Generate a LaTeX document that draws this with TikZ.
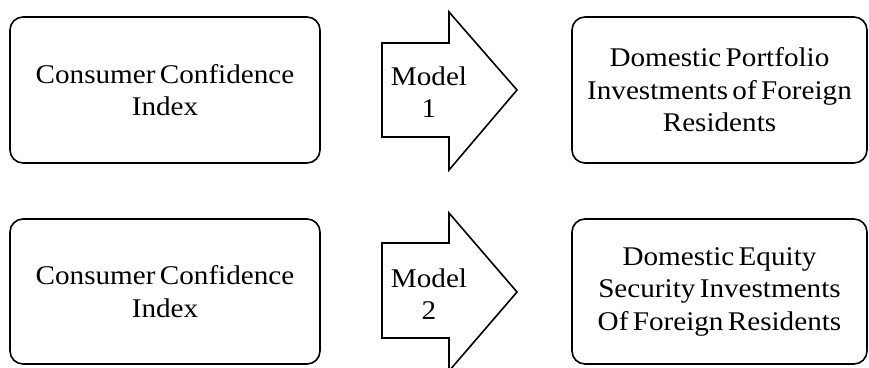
\documentclass[tikz,border=0pt]{standalone}
\usepackage{fontspec}
\setmainfont[FakeStretch=1.08,WordSpace=0.6]{Liberation Serif}
\begin{document}
\begin{tikzpicture}[x=1pt,y=1pt,
  box/.style={draw,line width=1.6pt,rounded corners=13pt,align=center,inner sep=0pt,
    font=\fontsize{27}{32.5}\selectfont},
  arr/.style={draw,line width=1.6pt,line join=miter},
  lbl/.style={align=center,inner sep=0pt,font=\fontsize{27}{32.5}\selectfont}]
\useasboundingbox (0,0) rectangle (869,367);
% top row (y = 367 - pixel y)
\node[box,minimum width=310pt,minimum height=146pt] (a1) at (165,277) {Consumer Confidence\\Index};
\node[box,minimum width=295pt,minimum height=146pt] (b1) at (719.5,277) {Domestic Portfolio\\Investments of Foreign\\Residents};
\draw[arr] (382,324) -- (449,324) -- (449,355) -- (517,277) -- (449,197) -- (449,230) -- (382,230) -- cycle;
\node[lbl] (m1) at (429,275) {Model\\1};
% bottom row
\node[box,minimum width=310pt,minimum height=145pt] (a2) at (165,75.5) {Consumer Confidence\\Index};
\node[box,minimum width=295pt,minimum height=145pt] (b2) at (719.5,75.5) {Domestic Equity\\Security Investments\\Of Foreign Residents};
\draw[arr] (382,124) -- (449,124) -- (449,154) -- (517,75) -- (449,-4) -- (449,29) -- (382,29) -- cycle;
\node[lbl] (m2) at (429,73) {Model\\2};
\end{tikzpicture}
\end{document}
